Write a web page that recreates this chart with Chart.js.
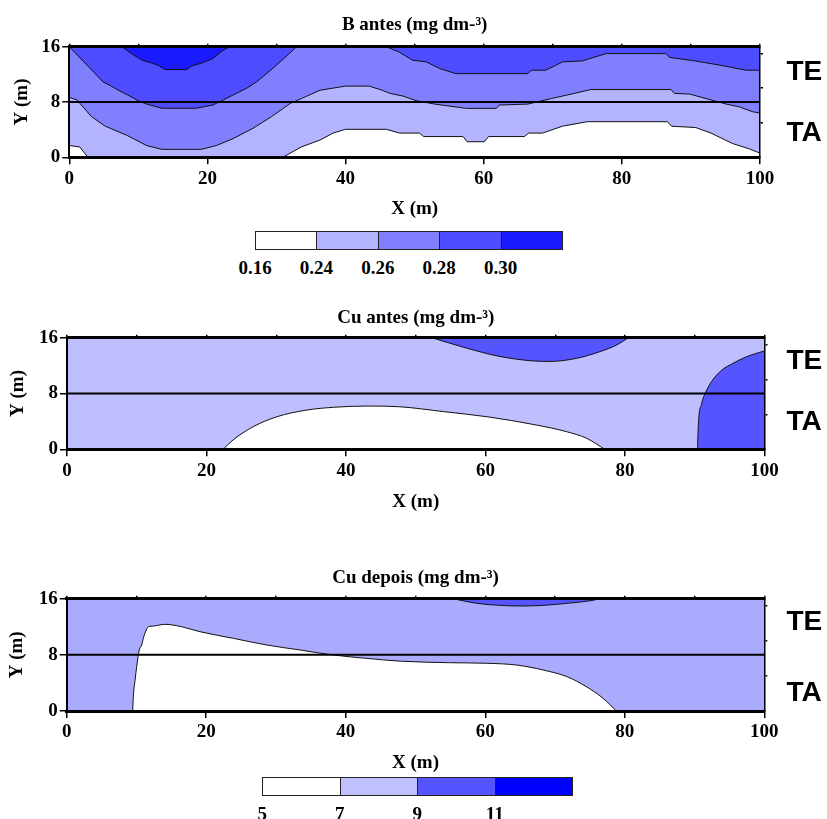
<!DOCTYPE html>
<html>
<head>
<meta charset="utf-8">
<script src="https://cdn.jsdelivr.net/npm/chart.js@4.4.1/dist/chart.umd.min.js"></script>
<style>
  body { margin: 0; background: #fff; width: 827px; height: 819px; position: relative; overflow: hidden; }
  canvas { position: absolute; left: 0; }
  .zone { position: absolute; font: bold 28px "Liberation Sans", Arial, sans-serif; line-height: 1; transform: translateY(-50%); }
  .seg { position: absolute; box-sizing: border-box; border: 1px solid #222; }
  .lab { position: absolute; font: bold 19px "Liberation Serif", "Times New Roman", serif; line-height: 1; transform: translate(-50%, -50%); }
</style>
</head>
<body>
<canvas id="bAntes" width="827" height="230" style="top:0px"></canvas>
<canvas id="cuAntes" width="827" height="232" style="top:290px"></canvas>
<canvas id="cuDepois" width="827" height="232" style="top:552px"></canvas>
<div id="overlay"></div>
<script>
// axis ticks
const xTicks = [0, 20, 40, 60, 80, 100];
const xMinorTicks = [0, 10, 20, 30, 40, 50, 60, 70, 80, 90, 100];
const yTicks = [0, 8, 16];
const yRightTicks = [5, 10, 15];

// B antes contour boundaries (x, y in m)
const bLowX = [0, 1.5, 2.7, 30.9, 33.6, 36.3, 38.2, 40, 45.9, 47.8, 50.7, 51.3, 57, 57.6, 60.1, 60.7, 65.9, 66.5, 68.5, 71.4, 75, 86.6, 87.2, 90.7, 92.9, 96, 98.5, 100];
const bLowY = [1.7, 1.5, 0, 0, 1.5, 2.5, 3.5, 4.05, 4.05, 3.5, 3.5, 3.0, 3.0, 2.25, 2.25, 3.0, 3.0, 3.5, 3.5, 4.5, 5.15, 5.15, 4.5, 4.3, 3.5, 2.0, 1.2, 0.6];
const bMidX = [0, 1.1, 3.2, 5.2, 8.3, 11.2, 13.4, 19.1, 21.3, 23.7, 26.6, 29.3, 32, 33.6, 36.3, 40, 43.4, 45.3, 46.4, 48.3, 50.2, 52.9, 57.5, 61.8, 62.3, 66.4, 69.8, 72.7, 75.5, 87.1, 87.6, 89.8, 92.9, 95.1, 97, 98.9, 100];
const bMidY = [8.67, 8.3, 5.9, 4.5, 3.2, 1.7, 1.15, 1.15, 1.7, 2.7, 4.2, 5.9, 7.8, 8.5, 9.7, 10.3, 10.3, 9.7, 9.25, 8.86, 8.2, 7.7, 7.08, 7.08, 7.56, 7.7, 8.5, 9.15, 9.8, 9.8, 9.25, 9.15, 8.3, 7.7, 7.3, 6.6, 6.4];
const bHighX = [0, 4.9, 5.9, 7.1, 8.5, 10.2, 11.2, 13.4, 18.4, 20.8, 22.3, 23.7, 25.7, 27.1, 29.5, 31.4, 32.9, 45.9, 47.8, 49.7, 51.7, 53.6, 56, 66.4, 66.9, 69, 71.4, 74.3, 77.7, 86.4, 86.9, 90.5, 94.1, 98, 100];
const bHighY = [16, 10.9, 10.4, 9.7, 9.0, 8.05, 7.7, 7.1, 7.1, 7.56, 8.3, 9.0, 10.0, 10.9, 12.9, 14.6, 16, 16, 15.2, 14.05, 13.8, 12.85, 12.1, 12.1, 12.6, 12.6, 13.8, 13.95, 15.0, 15.0, 14.45, 13.95, 13.35, 12.6, 12.6];
const bTopX = [7.6, 9.0, 10.5, 11.7, 12.9, 13.8, 17, 17.7, 19.4, 20.8, 22, 23.2];
const bTopY = [16, 15, 14.05, 13.7, 13.3, 12.7, 12.7, 13.2, 13.7, 14.3, 15.3, 16];

// Cu antes contour boundaries
const cuAntesLowX = [22.4, 23.8, 26.7, 30.1, 34.4, 38.2, 43, 47.7, 54, 60.2, 67.3, 71.6, 74.5, 77.1];
const cuAntesLowY = [0, 1.33, 3.24, 4.67, 5.63, 6.02, 6.2, 6.1, 5.4, 4.67, 3.48, 2.53, 1.58, 0];
const cuAntesTopX = [52.3, 57.3, 62.1, 66.9, 69.2, 73.1, 76.4, 78.8, 80.5];
const cuAntesTopY = [16, 14.5, 13.3, 12.66, 12.6, 13.05, 14, 14.95, 16];
const cuAntesRightX = [90.4, 90.5, 91, 91.5, 92.4, 93.9, 95.5, 96.9, 98.4, 100];
const cuAntesRightY = [0, 3.24, 6.6, 8.03, 9.7, 11.37, 12.33, 13.05, 13.62, 14.1];

// Cu depois contour boundaries
const cuDepoisLowX = [9.46, 9.55, 9.8, 10.03, 10.4, 10.75, 10.98, 11.3, 11.7, 12.4, 14.1, 16.5, 19.1, 23.9, 28.7, 33.4, 38.2, 43, 47.8, 54.9, 60.2, 64.5, 68.3, 71.7, 74.5, 76.9, 78.8];
const cuDepoisLowY = [0, 2.04, 4.4, 6.3, 8.7, 9.4, 10.35, 11.3, 12.0, 12.1, 12.35, 12.0, 11.3, 10.35, 9.4, 8.7, 7.98, 7.5, 7.1, 6.88, 6.8, 6.55, 5.84, 4.9, 3.46, 1.8, 0];
const cuDepoisTopX = [55.4, 58.8, 62.1, 65, 68.3, 71.7, 75, 76.5];
const cuDepoisTopY = [16, 15.34, 15.05, 14.96, 15.05, 15.34, 15.7, 16];

// whole plot and TE/TA split
const fullX = [0, 100];
const fullY = [16, 16];
const splitY = [8, 8];

// colour scales
const bLegendLabels = ["0.16", "0.24", "0.26", "0.28", "0.30"];
const bLegendColors = ["#ffffff", "#b3b3ff", "#8080ff", "#4d4dff", "#1a1aff"];
const cuLegendLabels = ["5", "7", "9", "11"];
const cuLegendColors = ["#ffffff", "#c0c0ff", "#5555ff", "#0000ff"];

const SERIF = "'Liberation Serif', 'Times New Roman', serif";
const tickFont = { family: SERIF, size: 19, weight: "bold" };
const titleFont = { family: SERIF, size: 19, weight: "bold" };
const LH = 19 * 1.2;

function pts(xs, ys) {
  return xs.map((x, i) => ({ x, y: ys[i] }));
}

function band(xs, ys, color, fill, order, smooth) {
  return {
    data: pts(xs, ys),
    xAxisID: "x", yAxisID: "y",
    backgroundColor: color,
    borderColor: "#111",
    borderWidth: 1,
    fill,
    order,
    tension: smooth ? 0.4 : 0,
    cubicInterpolationMode: smooth ? "monotone" : "default",
  };
}

function base(color) {
  return { data: pts(fullX, fullY), xAxisID: "x", yAxisID: "y", backgroundColor: color, borderWidth: 0, fill: "start", order: 9 };
}

function split() {
  return { data: pts(fullX, splitY), xAxisID: "x", yAxisID: "y", borderColor: "#000", borderWidth: 2, fill: false, order: 0 };
}

function fixed(list) {
  return scale => { scale.ticks = list.map(v => ({ value: v })); };
}

function makePanel(id, title, datasets, box) {
  const axisGrid = len => ({ drawOnChartArea: false, drawTicks: true, tickLength: len, color: "#000", lineWidth: 1.5 });
  return new Chart(document.getElementById(id), {
    type: "line",
    data: { datasets },
    options: {
      responsive: false,
      animation: false,
      events: [],
      layout: { padding: { left: 0, top: 0, right: 827 - box.right - 10, bottom: box.h - box.bottom - 70 } },
      plugins: { legend: { display: false }, tooltip: { enabled: false } },
      elements: { point: { radius: 0 } },
      scales: {
        x: {
          type: "linear", position: "bottom", min: 0, max: 100,
          afterBuildTicks: fixed(xTicks),
          afterFit: s => { s.height = 70; },
          grid: axisGrid(7),
          border: { width: 3, color: "#000", z: 1 },
          ticks: { font: tickFont, color: "#000", padding: 3, maxRotation: 0, autoSkip: false },
          title: { display: true, text: "X (m)", font: titleFont, color: "#000",
                   padding: { top: 0, bottom: box.bottom + 70 - LH / 2 - box.xTitle } },
        },
        x2: {
          type: "linear", position: "top", min: 0, max: 100,
          afterBuildTicks: fixed(xMinorTicks),
          afterFit: s => { s.height = box.top; },
          grid: axisGrid(3),
          border: { width: 3, color: "#000", z: 1 },
          ticks: { display: false },
          title: { display: true, text: title, font: titleFont, color: "#000",
                   padding: { top: box.title - LH / 2, bottom: 0 } },
        },
        y: {
          type: "linear", position: "left", min: 0, max: 16,
          afterBuildTicks: fixed(yTicks),
          afterFit: s => { s.width = box.left; },
          grid: axisGrid(7),
          border: { width: 2, color: "#000", z: 1 },
          ticks: { font: tickFont, color: "#000", padding: 2 },
          title: { display: true, text: "Y (m)", font: titleFont, color: "#000",
                   padding: { top: box.yTitle - LH / 2, bottom: 0 } },
        },
        y2: {
          type: "linear", position: "right", min: 0, max: 16,
          afterBuildTicks: fixed(yRightTicks),
          afterFit: s => { s.width = 10; },
          grid: axisGrid(3),
          border: { width: 1.5, color: "#000", z: 1 },
          ticks: { display: false },
        },
      },
    },
  });
}

makePanel("bAntes", "B antes (mg dm-\u00b3)", [
  band(bLowX, bLowY, bLegendColors[1], "end", 5, false),
  band(bMidX, bMidY, bLegendColors[2], "end", 4, false),
  band(bHighX, bHighY, bLegendColors[3], "end", 3, false),
  band(bTopX, bTopY, bLegendColors[4], "end", 2, false),
  split(),
], { h: 230, left: 69.3, right: 760, top: 46.7, bottom: 157.3, title: 25, xTitle: 209, yTitle: 21.7 });

makePanel("cuAntes", "Cu antes (mg dm-\u00b3)", [
  base("#bfbfff"),
  band(cuAntesLowX, cuAntesLowY, "#ffffff", "start", 4, true),
  band(cuAntesTopX, cuAntesTopY, "#5555ff", "end", 3, true),
  band(cuAntesRightX, cuAntesRightY, "#5555ff", "start", 3, true),
  split(),
], { h: 232, left: 67, right: 764.5, top: 47.7, bottom: 159.3, title: 28, xTitle: 211.7, yTitle: 18.3 });

makePanel("cuDepois", "Cu depois (mg dm-\u00b3)", [
  base("#aaaaff"),
  band(cuDepoisLowX, cuDepoisLowY, "#ffffff", "start", 4, true),
  band(cuDepoisTopX, cuDepoisTopY, "#5555ff", "end", 3, true),
  split(),
], { h: 232, left: 66.7, right: 764.3, top: 46.7, bottom: 159, title: 26, xTitle: 210.7, yTitle: 16.7 });

// TE / TA layer labels and colour bars
const overlay = document.getElementById("overlay");

function addText(cls, text, left, top) {
  const el = document.createElement("div");
  el.className = cls;
  el.textContent = text;
  el.style.left = left + "px";
  el.style.top = top + "px";
  overlay.appendChild(el);
}

[[70.8, 131.7], [359.7, 420.5], [621, 692]].forEach(([te, ta]) => {
  addText("zone", "TE", 786.5, te);
  addText("zone", "TA", 786.5, ta);
});

function colorBar(colors, labels, left, top, width, height, labelY) {
  const w = width / colors.length;
  colors.forEach((c, i) => {
    const el = document.createElement("div");
    el.className = "seg";
    el.style.left = (left + i * w) + "px";
    el.style.top = top + "px";
    el.style.width = (w + 1) + "px";
    el.style.height = height + "px";
    el.style.background = c;
    overlay.appendChild(el);
  });
  labels.forEach((t, i) => addText("lab", t, left + i * w, labelY));
}

colorBar(bLegendColors, bLegendLabels, 255, 231, 307, 19, 266.7);
colorBar(cuLegendColors, cuLegendLabels, 262.3, 777, 310, 19, 812.5);
</script>
</body>
</html>
